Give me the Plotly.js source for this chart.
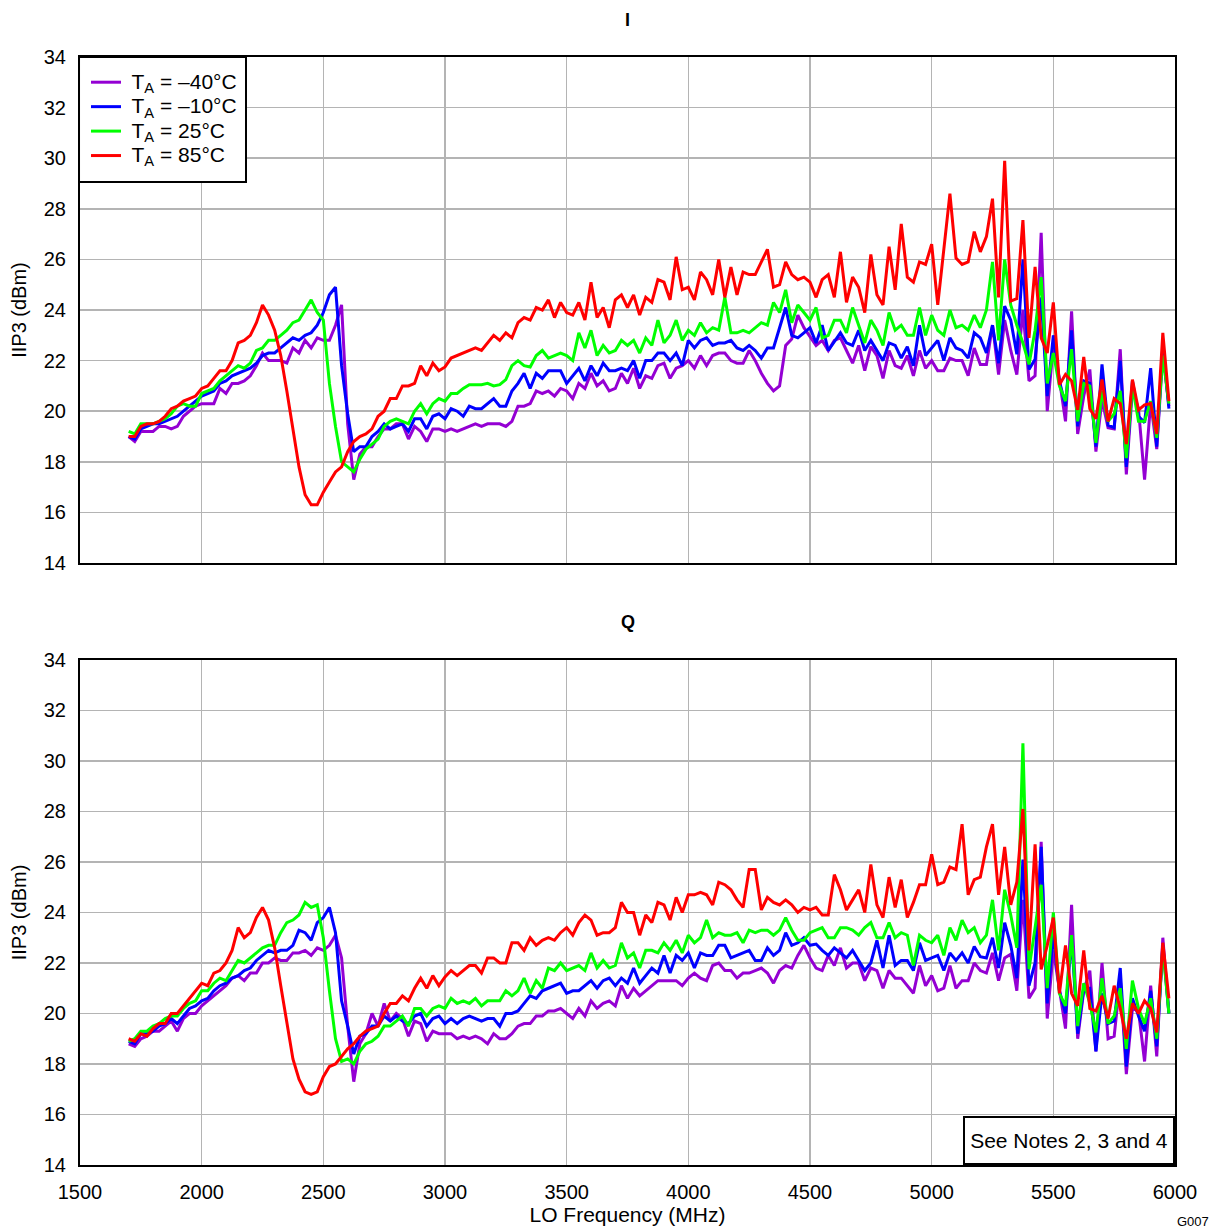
<!DOCTYPE html>
<html>
<head>
<meta charset="utf-8">
<script src="https://cdn.plot.ly/plotly-3.0.1.min.js"></script>
<style>
  html, body { margin: 0; padding: 0; background: #ffffff; }
  #chart { width: 1211px; height: 1228px; }
</style>
</head>
<body>
<div id="chart"></div>
<script>
// LO frequency grid (MHz)
const freq = [
  1700,1725,1750,1775,1800,1825,1850,1875,1900,1925,1950,1975,2000,2025,2050,2075,2100,2125,2150,2175,
  2200,2225,2250,2275,2300,2325,2350,2375,2400,2425,2450,2475,2500,2525,2550,2575,2600,2625,2650,2675,
  2700,2725,2750,2775,2800,2825,2850,2875,2900,2925,2950,2975,3000,3025,3050,3075,3100,3125,3150,3175,
  3200,3225,3250,3275,3300,3325,3350,3375,3400,3425,3450,3475,3500,3525,3550,3575,3600,3625,3650,3675,
  3700,3725,3750,3775,3800,3825,3850,3875,3900,3925,3950,3975,4000,4025,4050,4075,4100,4125,4150,4175,
  4200,4225,4250,4275,4300,4325,4350,4375,4400,4425,4450,4475,4500,4525,4550,4575,4600,4625,4650,4675,
  4700,4725,4750,4775,4800,4825,4850,4875,4900,4925,4950,4975,5000,5025,5050,5075,5100,5125,5150,5175,
  5200,5225,5250,5275,5300,5325,5350,5375,5400,5425,5450,5475,5500,5525,5550,5575,5600,5625,5650,5675,
  5700,5725,5750,5775,5800,5825,5850,5875,5900,5925,5950,5975
];

const seriesNames = ['T<sub>A</sub> = \u201340\u00B0C', 'T<sub>A</sub> = \u201310\u00B0C', 'T<sub>A</sub> = 25\u00B0C', 'T<sub>A</sub> = 85\u00B0C'];
const seriesColors = ['#9400D3', '#0000FF', '#00FF00', '#FF0000'];

// ---- I channel IIP3 (dBm) ----
const iM40 = [
  19.0,18.8,19.2,19.2,19.2,19.4,19.4,19.3,19.4,19.8,20.0,20.2,20.3,20.3,20.3,20.9,20.7,21.1,21.1,21.2,
  21.4,21.8,22.3,22.0,22.0,22.0,21.9,22.5,22.3,22.8,22.5,22.9,22.8,22.8,23.4,24.2,19.5,17.3,18.3,18.6,
  18.6,19.0,19.3,19.3,19.5,19.5,18.9,19.4,19.2,18.8,19.3,19.3,19.2,19.3,19.2,19.3,19.4,19.5,19.4,19.5,
  19.5,19.5,19.4,19.6,20.2,20.2,20.3,20.8,20.7,20.8,20.6,20.9,20.8,20.5,21.1,20.9,21.5,21.0,21.2,20.8,
  20.9,21.5,21.1,21.7,20.9,21.4,21.3,21.8,21.9,21.3,21.7,21.8,22.0,21.7,22.2,21.8,22.2,22.3,22.3,22.0,
  21.9,21.9,22.4,22.0,21.5,21.1,20.8,21.0,22.6,22.85,23.8,23.3,22.95,22.6,22.8,22.4,22.8,22.9,22.4,21.9,
  22.6,21.6,22.55,22.2,21.3,22.4,21.8,21.7,22.2,21.4,22.4,21.7,22.0,21.6,21.6,22.1,22.0,22.0,21.4,22.5,
  21.85,21.85,23.4,21.45,23.6,22.4,21.45,24.0,21.2,21.4,27.05,20.0,22.6,21.25,19.6,23.95,19.1,20.6,21.65,18.4,
  20.45,19.35,19.3,22.45,17.5,20.85,20.1,17.3,20.35,18.5,22.3,20.2
];
const iM10 = [
  19.0,18.9,19.3,19.4,19.5,19.5,19.6,19.7,19.8,20.0,20.2,20.4,20.6,20.7,20.8,21.1,21.2,21.4,21.5,21.6,
  21.7,21.9,22.2,22.3,22.3,22.5,22.7,22.9,22.8,23.0,23.1,23.4,23.9,24.6,24.9,21.8,19.9,18.4,18.6,18.6,
  19.0,19.2,19.5,19.3,19.4,19.5,19.2,19.7,19.7,19.3,19.8,19.9,19.7,20.1,20.0,19.8,20.2,20.1,20.1,20.3,
  20.5,20.2,20.2,20.8,21.1,21.5,20.9,21.5,21.3,21.6,21.6,21.6,21.1,21.4,21.7,21.2,21.8,21.4,21.9,21.6,
  21.6,21.7,21.6,22.0,21.3,22.0,22.0,22.3,22.3,22.0,22.3,21.8,22.8,22.5,22.8,22.9,22.6,22.7,22.7,22.8,
  22.5,22.4,22.6,22.4,22.1,22.5,22.5,23.3,24.1,23.0,22.9,23.1,23.3,22.7,23.4,22.4,22.75,23.1,22.7,22.6,
  23.2,22.4,22.8,22.4,22.0,22.7,22.6,22.1,22.55,21.8,23.4,22.2,22.5,22.8,22.0,22.9,22.5,22.4,22.1,23.1,
  22.9,22.3,23.4,21.9,24.15,23.6,22.25,26.0,21.65,22.05,24.5,20.6,23.0,21.2,20.2,23.2,19.4,21.2,21.1,18.6,
  21.85,19.45,19.35,22.0,17.8,21.2,19.8,19.55,21.7,18.6,22.6,20.1
];
const i25 = [
  19.2,19.1,19.5,19.5,19.5,19.6,19.7,19.9,20.2,20.3,20.2,20.2,20.7,20.8,20.9,21.2,21.4,21.6,21.8,21.7,
  21.9,22.4,22.5,22.8,22.8,23.0,23.2,23.5,23.6,24.0,24.4,23.9,23.6,21.1,19.4,18.0,17.8,17.6,18.1,18.5,
  18.7,18.9,19.4,19.6,19.7,19.6,19.5,20.0,20.3,19.9,20.3,20.5,20.4,20.7,20.7,20.9,21.05,21.05,21.05,21.1,
  21.0,21.05,21.25,21.8,22.0,21.8,21.75,22.2,22.4,22.1,22.2,22.3,22.2,22.0,23.1,22.5,23.2,22.2,22.6,22.3,
  22.4,22.8,22.6,22.8,22.3,22.9,22.6,23.6,22.7,23.0,23.6,22.8,23.2,23.0,23.5,23.1,23.3,23.2,24.5,23.1,
  23.1,23.2,23.1,23.3,23.5,23.4,24.3,23.9,24.8,23.5,24.2,23.9,23.6,24.1,22.9,23.0,23.6,23.6,23.1,24.1,
  23.4,22.7,23.6,23.2,22.6,23.9,23.2,23.4,23.0,23.0,24.1,23.0,23.8,23.2,23.0,24.0,23.3,23.4,23.2,23.8,
  23.3,24.0,25.9,22.8,26.0,24.2,23.4,22.7,21.85,23.2,25.3,21.1,22.3,21.0,20.4,22.45,19.6,21.1,21.0,18.75,
  20.8,19.6,19.9,20.8,18.15,21.0,19.6,19.6,20.4,18.95,22.2,20.3
];
const i85 = [
  19.0,19.0,19.4,19.5,19.5,19.6,19.8,20.1,20.2,20.4,20.5,20.6,20.9,21.0,21.3,21.6,21.6,22.0,22.7,22.8,
  23.0,23.5,24.2,23.8,23.2,22.2,20.8,19.2,17.8,16.7,16.3,16.3,16.8,17.2,17.6,17.8,18.4,18.8,19.0,19.1,
  19.3,19.8,20.0,20.5,20.5,21.0,21.0,21.1,21.8,21.4,21.9,21.6,21.75,22.1,22.2,22.3,22.4,22.5,22.4,22.7,
  23.0,22.8,23.1,22.9,23.5,23.7,23.6,24.1,24.0,24.4,23.7,24.3,23.9,23.8,24.3,23.6,25.1,23.7,24.1,23.3,
  24.4,24.6,24.1,24.6,23.8,24.5,24.3,25.2,25.1,24.4,26.1,24.8,24.9,24.4,25.5,25.2,24.6,26.0,24.5,25.7,
  24.6,25.5,25.4,25.4,25.9,26.4,24.9,25.0,25.9,25.4,25.2,25.3,25.1,24.5,25.2,25.4,24.5,26.3,24.3,25.3,
  24.9,23.9,26.2,24.6,24.2,26.5,24.8,27.4,25.3,25.1,25.9,25.8,26.6,24.2,26.4,28.6,26.05,25.8,25.9,27.1,
  26.3,26.9,28.4,24.5,29.9,24.35,24.45,27.55,22.9,25.7,22.9,22.3,24.3,21.05,21.45,21.2,20.05,22.15,20.1,19.7,
  21.25,19.6,20.5,20.3,18.7,21.25,20.05,20.25,20.3,19.1,23.1,20.4
];

// ---- Q channel IIP3 (dBm) ----
const qM40 = [
  18.8,18.7,19.0,19.1,19.3,19.3,19.5,19.7,19.3,19.8,20.0,20.0,20.3,20.5,20.7,20.9,21.1,21.4,21.5,21.3,
  21.6,21.6,22.0,22.0,22.2,22.1,22.1,22.4,22.4,22.5,22.3,22.6,22.5,22.7,23.1,22.2,19.5,17.3,18.8,19.2,
  20.0,19.5,20.4,19.7,20.0,19.8,19.1,19.7,19.6,18.9,19.3,19.2,19.2,19.2,19.0,19.1,19.0,19.1,19.0,18.8,
  19.2,19.0,19.0,19.2,19.5,19.6,19.6,19.9,19.9,20.1,20.1,20.2,20.0,19.8,20.2,19.9,20.5,20.2,20.4,20.5,
  20.3,21.1,20.6,21.0,20.7,20.9,21.1,21.3,21.3,21.3,21.3,21.1,21.4,21.6,21.4,21.3,21.9,22.0,21.7,21.7,
  21.4,21.6,21.6,21.7,21.8,21.6,21.2,21.7,21.9,21.8,22.3,22.7,22.2,21.8,21.7,22.3,21.9,22.6,21.8,22.0,
  22.0,21.3,21.8,21.7,21.0,21.7,21.4,21.4,21.1,20.8,21.9,21.1,21.5,20.9,21.0,21.9,21.0,21.3,21.3,22.0,
  21.7,21.6,22.4,21.3,22.2,22.35,20.9,24.5,20.6,21.0,26.8,19.8,22.5,20.9,19.4,24.3,19.0,20.9,21.7,18.5,
  22.0,19.0,19.1,21.4,17.6,20.2,20.1,18.1,21.1,18.3,23.0,20.0
];
const qM10 = [
  18.9,18.8,19.2,19.2,19.3,19.5,19.6,19.8,19.6,19.9,20.2,20.3,20.5,20.6,20.9,21.1,21.2,21.4,21.5,21.7,
  21.8,22.1,22.3,22.5,22.4,22.5,22.5,22.7,23.3,23.2,22.9,23.6,23.8,24.2,23.2,20.5,19.5,18.4,19.1,19.2,
  19.5,19.5,19.9,19.7,19.9,19.7,19.6,19.9,20.0,19.5,19.8,19.9,19.6,19.8,19.6,19.8,19.9,19.8,19.7,19.8,
  19.8,19.5,20.0,20.0,20.1,20.4,20.7,20.6,20.9,21.0,21.1,21.2,20.8,20.9,20.9,21.1,21.3,21.0,21.3,21.4,
  21.1,21.4,21.2,21.8,21.2,21.5,21.8,21.6,22.3,21.6,22.3,22.1,22.4,21.8,22.4,22.3,22.3,22.7,22.7,22.2,
  22.3,22.4,22.5,22.1,22.1,22.6,22.3,22.5,23.2,22.7,22.8,23.0,22.7,22.75,22.5,22.3,22.6,22.4,22.2,22.5,
  22.1,21.7,22.0,22.9,21.8,23.1,21.9,22.1,22.1,21.7,22.8,22.1,22.2,22.3,21.7,22.4,22.1,22.4,22.0,22.65,
  22.25,22.2,23.0,21.8,23.6,22.7,21.4,26.1,21.1,22.0,26.6,20.4,23.2,20.9,20.0,23.0,19.2,21.0,21.0,18.5,
  20.8,19.6,19.7,21.8,17.9,20.6,19.9,19.3,20.9,18.7,22.7,20.0
];
const q25 = [
  18.9,19.0,19.3,19.3,19.5,19.6,19.8,19.9,19.9,20.2,20.4,20.5,20.9,20.9,21.2,21.4,21.3,21.7,22.1,22.0,
  22.2,22.4,22.6,22.7,22.7,23.2,23.6,23.7,23.9,24.4,24.2,24.3,23.0,20.9,19.0,18.1,18.2,18.0,18.5,18.8,
  18.9,19.1,19.5,19.5,19.7,19.9,19.5,20.2,20.2,19.9,20.2,20.3,20.2,20.6,20.4,20.5,20.4,20.6,20.3,20.5,
  20.5,20.5,20.9,20.7,20.9,21.4,20.8,21.3,21.0,21.8,21.7,22.0,21.7,21.8,21.9,21.7,22.4,21.8,22.1,21.8,
  21.9,22.8,22.2,22.4,21.8,22.5,22.5,22.4,22.8,22.5,22.9,22.4,23.1,22.8,23.0,23.7,23.0,23.2,23.1,23.1,
  23.2,22.8,23.3,23.2,23.3,23.3,23.1,23.3,23.8,23.3,22.9,22.9,23.2,23.3,23.4,23.0,23.0,23.4,23.4,23.3,
  23.1,23.4,23.6,23.0,23.0,23.6,23.0,23.2,23.1,21.9,23.1,22.9,22.8,23.1,22.3,23.4,22.9,23.7,23.2,23.4,
  22.8,23.1,24.5,22.5,24.9,23.9,22.6,30.7,21.75,23.4,25.1,21.0,24.0,20.8,20.3,23.1,19.5,21.2,20.4,19.25,
  21.4,19.6,19.9,21.0,18.6,21.3,20.2,19.6,20.6,19.0,22.6,20.0
];
const q85 = [
  19.0,18.9,19.2,19.1,19.4,19.6,19.6,20.0,20.0,20.3,20.6,20.9,21.2,21.1,21.6,21.7,22.0,22.5,23.4,23.0,
  23.2,23.8,24.2,23.7,22.6,21.1,19.6,18.2,17.4,16.9,16.8,16.9,17.5,17.9,18.0,18.3,18.6,18.8,19.1,19.3,
  19.4,19.5,20.0,20.4,20.4,20.7,20.5,21.0,21.4,21.0,21.5,21.1,21.45,21.7,21.5,21.7,21.9,21.9,21.6,22.2,
  22.2,22.0,22.0,22.8,22.8,22.5,23.0,22.7,22.9,23.0,22.9,23.2,23.4,23.1,23.6,23.9,23.7,23.1,23.2,23.2,
  23.4,24.4,24.0,24.0,23.1,23.9,23.6,24.4,24.3,23.7,24.6,24.0,24.7,24.7,24.8,24.7,24.3,25.2,25.1,24.9,
  24.5,24.2,25.7,25.7,24.1,24.6,24.4,24.3,24.5,24.3,24.0,24.2,24.1,24.2,23.9,23.9,25.5,24.9,24.1,24.5,
  24.9,24.0,25.9,24.3,23.8,25.4,24.2,25.3,23.8,24.4,25.1,25.1,26.3,25.1,25.2,25.8,25.7,27.5,24.7,25.3,
  25.4,26.6,27.5,24.7,26.6,24.3,25.2,28.1,22.5,26.7,21.75,22.7,23.8,20.8,22.7,20.8,20.3,22.5,20.2,20.1,
  20.7,19.8,21.1,20.2,19.0,20.4,20.0,20.5,20.2,19.25,22.8,20.6
];

const xTicks = [1500, 2000, 2500, 3000, 3500, 4000, 4500, 5000, 5500, 6000];
const yTicks = [14, 16, 18, 20, 22, 24, 26, 28, 30, 32, 34];

const iSeries = [iM40, iM10, i25, i85];
const qSeries = [qM40, qM10, q25, q85];

const FONT = '"Liberation Sans", Arial, Helvetica, sans-serif';
const traces = [];
iSeries.forEach((vals, k) => {
  traces.push({
    x: freq, y: vals, type: 'scatter', mode: 'lines',
    name: '<span style="font-size:21px"> ' + seriesNames[k] + '</span>', legendgroup: 'g' + k,
    line: { color: seriesColors[k], width: 3 },
    xaxis: 'x', yaxis: 'y', showlegend: true
  });
});
qSeries.forEach((vals, k) => {
  traces.push({
    x: freq, y: vals, type: 'scatter', mode: 'lines',
    name: seriesNames[k], legendgroup: 'g' + k,
    line: { color: seriesColors[k], width: 3 },
    xaxis: 'x2', yaxis: 'y2', showlegend: false
  });
});

const axisCommon = {
  showline: true, mirror: true, linecolor: '#000000', linewidth: 2,
  showgrid: true, gridcolor: '#b4b4b4', gridwidth: 1.5,
  zeroline: false, ticks: '', tickfont: { family: FONT, size: 20, color: '#000000' }
};

const layout = {
  width: 1211, height: 1228,
  margin: { l: 80, r: 36, t: 57, b: 63 },
  paper_bgcolor: '#ffffff', plot_bgcolor: '#ffffff',
  font: { family: FONT, color: '#000000' },
  showlegend: true,
  legend: {
    x: 0.0055, y: 0.9928, xanchor: 'left', yanchor: 'top',
    bgcolor: 'rgba(0,0,0,0)', borderwidth: 0,
    font: { family: FONT, size: 16.5, color: '#000000' },
    itemwidth: 30, tracegroupgap: 0
  },
  shapes: [
    // legend frame
    { type: 'rect', xref: 'paper', yref: 'paper', x0: -0.0009, x1: 0.1516, y0: 0.8872, y1: 1.0,
      line: { color: '#000000', width: 2 }, fillcolor: '#ffffff', layer: 'above' }
  ],
  xaxis: Object.assign({}, axisCommon, {
    domain: [0, 1], range: [1500, 6000], tickvals: xTicks, showticklabels: false, anchor: 'y'
  }),
  yaxis: Object.assign({}, axisCommon, {
    domain: [0.5433, 1], range: [14, 34], tickvals: yTicks, anchor: 'x',
    ticklabelstandoff: 8,
    title: { text: 'IIP3 (dBm)', font: { family: FONT, size: 20 }, standoff: 12 }
  }),
  xaxis2: Object.assign({}, axisCommon, {
    domain: [0, 1], range: [1500, 6000], tickvals: xTicks, anchor: 'y2',
    ticklabelstandoff: 8,
    title: { text: 'LO Frequency (MHz)', font: { family: FONT, size: 21 }, standoff: 3 }
  }),
  yaxis2: Object.assign({}, axisCommon, {
    domain: [0, 0.4558], range: [14, 34], tickvals: yTicks, anchor: 'x2',
    ticklabelstandoff: 8,
    title: { text: 'IIP3 (dBm)', font: { family: FONT, size: 20 }, standoff: 12 }
  }),
  annotations: [
    { text: '<b>I</b>', xref: 'paper', yref: 'paper', x: 0.5, y: 1.0334, xanchor: 'center', yanchor: 'middle',
      showarrow: false, font: { family: FONT, size: 18, color: '#000000' } },
    { text: '<b>Q</b>', xref: 'paper', yref: 'paper', x: 0.5, y: 0.4901, xanchor: 'center', yanchor: 'middle',
      showarrow: false, font: { family: FONT, size: 18, color: '#000000' } },
    { text: 'See Notes 2, 3 and 4', xref: 'x2', yref: 'y2', x: 6000, y: 14, xanchor: 'right', yanchor: 'bottom',
      showarrow: false, bgcolor: '#ffffff', bordercolor: '#000000', borderwidth: 2, borderpad: 4,
      width: 200, height: 37, align: 'center',
      font: { family: FONT, size: 21, color: '#000000' } },
    { text: 'G007', xref: 'paper', yref: 'paper', x: 1, y: -0.0514, xanchor: 'left', yanchor: 'middle',
      showarrow: false, font: { family: FONT, size: 13, color: '#000000' } }
  ]
};

Plotly.newPlot('chart', traces, layout, { staticPlot: true, displayModeBar: false });
</script>
</body>
</html>
